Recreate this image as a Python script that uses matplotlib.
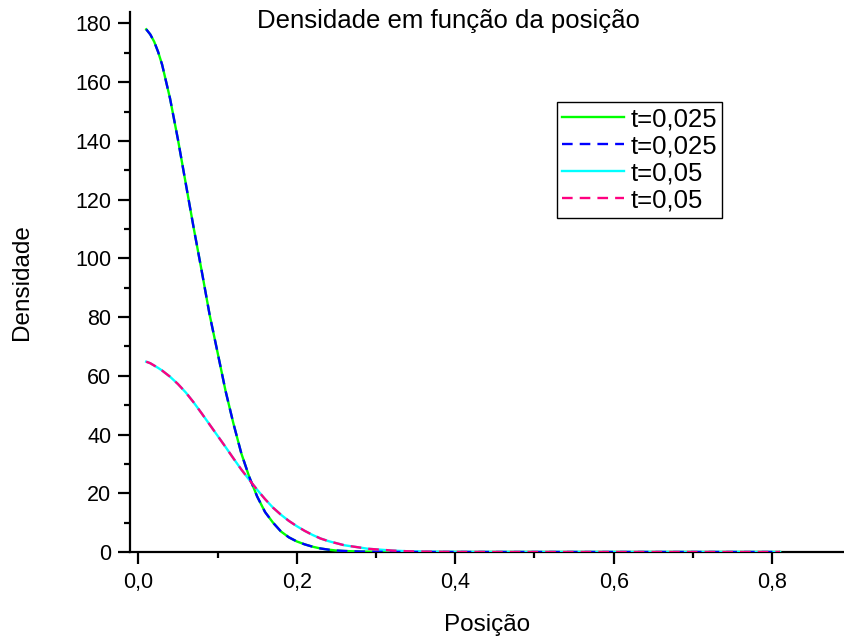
import numpy as np
import matplotlib
matplotlib.use("Agg")
import matplotlib.pyplot as plt
from matplotlib.ticker import MultipleLocator, FuncFormatter

plt.rcParams['font.family'] = ['Liberation Sans', 'DejaVu Sans']

# valores
pos = [0.01, 0.015, 0.02, 0.025, 0.03, 0.04, 0.05, 0.06, 0.07, 0.08, 0.09, 0.10,
       0.11, 0.12, 0.13, 0.14, 0.15, 0.16, 0.17, 0.18, 0.19, 0.20,
       0.21, 0.22, 0.23, 0.24, 0.25, 0.26, 0.27, 0.28, 0.29, 0.30,
       0.32, 0.34, 0.37, 0.40, 0.45, 0.50, 0.60, 0.70, 0.81]

dens_t025 = [178.0, 176.3, 173.8, 170.3, 166.0, 154.5, 140.5, 125.3, 110.2, 95.7, 80.8, 68.0,
             55.0, 43.8, 33.6, 25.6, 18.9, 13.6, 10.0, 7.0, 5.0, 3.6,
             2.6, 1.8, 1.2, 0.8, 0.5, 0.35, 0.25, 0.15, 0.1, 0.05,
             0.02, 0.0, 0.0, 0.0, 0.0, 0.0, 0.0, 0.0, 0.0]

dens_t05 = [64.8, 64.3, 63.5, 62.7, 61.8, 59.7, 57.2, 54.3, 50.9, 47.2, 43.4, 39.6,
            35.8, 31.9, 28.1, 24.6, 21.2, 18.0, 15.1, 12.7, 10.6, 8.8,
            7.2, 5.8, 4.6, 3.7, 3.0, 2.3, 1.9, 1.5, 1.1, 0.9,
            0.5, 0.25, 0.1, 0.03, 0.0, 0.0, 0.0, 0.0, 0.0]

labels = ['t=0,025', 't=0,025', 't=0,05', 't=0,05']

fig = plt.figure(figsize=(8.45, 6.42), dpi=100)
ax = fig.add_axes([130 / 845, 1 - 552 / 642, 1 - 130 / 845, (552 - 11.7) / 642])

lw = 1.7
dash = (0, (4.5, 3))
ax.plot(pos, dens_t025, color='#00ff00', lw=lw, label=labels[0], zorder=3)
ax.plot(pos, dens_t025, color='#0000ff', lw=lw, ls=dash, label=labels[1], zorder=4)
ax.plot(pos, dens_t05, color='#00ffff', lw=lw, label=labels[2], zorder=3)
ax.plot(pos, dens_t05, color='#ff0080', lw=lw, ls=dash, label=labels[3], zorder=4)

ax.set_xlim(-0.0105, 0.892)
ax.set_ylim(0, 184)

for s in ['top', 'right']:
    ax.spines[s].set_visible(False)
for s in ['left', 'bottom']:
    ax.spines[s].set_linewidth(1.6)

ax.xaxis.set_major_locator(MultipleLocator(0.2))
ax.xaxis.set_minor_locator(MultipleLocator(0.1))
ax.yaxis.set_major_locator(MultipleLocator(20))
ax.yaxis.set_minor_locator(MultipleLocator(10))
ax.xaxis.set_major_formatter(FuncFormatter(lambda v, p: f'{v:.1f}'.replace('.', ',')))
ax.tick_params(which='major', direction='out', length=8.5, width=1.6, labelsize=15.5)
ax.tick_params(which='minor', direction='out', length=4, width=1.6)
ax.tick_params(axis='x', which='both', pad=6)
ax.tick_params(axis='y', which='both', pad=5)

ax.set_xlabel('Posição', fontsize=17.5, labelpad=15)
ax.set_ylabel('Densidade', fontsize=17.5, labelpad=30)

fig.text(448 / 845, 1 - 21 / 642, 'Densidade em função da posição',
         fontsize=18.5, ha='center', va='center')

leg = ax.legend(loc='upper left', bbox_to_anchor=((557 - 130) / 715, 1 - (102 - 11.7) / 540.3),
                fontsize=18.5, frameon=True, fancybox=False, framealpha=1,
                edgecolor='black', handlelength=2.4, handletextpad=0.25,
                labelspacing=0.12, borderpad=0.2, borderaxespad=0)
leg.get_frame().set_linewidth(1.0)

fig.savefig('out.png', dpi=100)
